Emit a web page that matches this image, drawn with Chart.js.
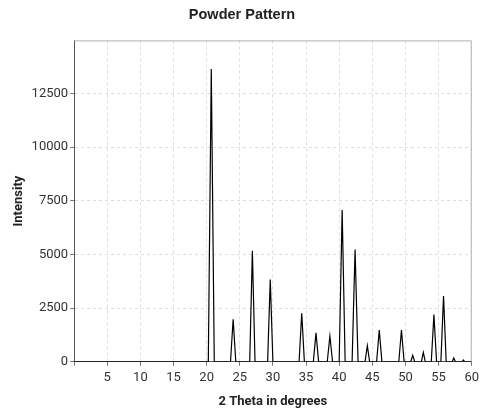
<!DOCTYPE html>
<html>
<head>
<meta charset="utf-8">
<script src="https://cdn.jsdelivr.net/npm/chart.js@4/dist/chart.umd.min.js"></script>
<style>
html,body{margin:0;padding:0;background:#fff;}
#wrap{width:483px;height:414px;}
</style>
</head>
<body>
<div id="wrap"><canvas id="c" width="483" height="414"></canvas></div>
<script>
// Powder pattern profile, 2θ (degrees) vs intensity
const twoTheta = [0,
  20.25, 20.7, 21.15,
  23.6, 24.0, 24.4,
  26.5, 26.9, 27.3,
  29.2, 29.6, 30.0,
  33.95, 34.35, 34.75,
  36.1, 36.5, 36.9,
  38.2, 38.6, 39.0,
  40.0, 40.45, 40.9,
  41.95, 42.4, 42.85,
  43.9, 44.25, 44.6,
  45.65, 46.05, 46.45,
  49.0, 49.4, 49.8,
  50.8, 51.1, 51.4,
  52.4, 52.7, 53.0,
  53.9, 54.3, 54.7,
  55.35, 55.75, 56.15,
  57.05, 57.3, 57.55,
  58.55, 58.75, 58.95,
  60];
const intensity = [0,
  0, 13650, 0,
  0, 1980, 0,
  0, 5180, 0,
  0, 3840, 0,
  0, 2260, 0,
  0, 1350, 0,
  0, 1200, 0,
  0, 7070, 0,
  0, 5230, 0,
  0, 750, 0,
  0, 1480, 0,
  0, 1480, 0,
  0, 300, 0,
  0, 440, 0,
  0, 2200, 0,
  0, 3060, 0,
  0, 175, 0,
  0, 80, 0,
  0];
const xTicks = [0, 5, 10, 15, 20, 25, 30, 35, 40, 45, 50, 55, 60];
const yTicks = [0, 2500, 5000, 7500, 10000, 12500];

const points = twoTheta.map((x, i) => ({x: x, y: intensity[i]}));

const frame = {
  id: 'frame',
  afterDatasetsDraw(chart) {
    const a = chart.chartArea, ctx = chart.ctx;
    ctx.save();
    ctx.strokeStyle = '#b0b0b0';
    ctx.lineWidth = 1;
    ctx.setLineDash([]);
    ctx.beginPath();
    ctx.moveTo(a.left, a.top + 0.5);
    ctx.lineTo(a.right - 0.5, a.top + 0.5);
    ctx.lineTo(a.right - 0.5, a.bottom);
    ctx.stroke();
    ctx.restore();
  }
};

new Chart(document.getElementById('c'), {
  type: 'line',
  data: {
    datasets: [{
      data: points,
      borderColor: '#000',
      borderWidth: 1.2,
      pointRadius: 0,
      tension: 0,
      fill: false
    }]
  },
  options: {
    responsive: false,
    animation: false,
    devicePixelRatio: 1,
    layout: {padding: {left: 11, right: 10, top: 5, bottom: 4}},
    plugins: {
      legend: {display: false},
      tooltip: {enabled: false},
      title: {
        display: true,
        text: 'Powder Pattern',
        color: '#222',
        font: {family: 'Liberation Sans', size: 14.5, weight: 'bold'},
        padding: {top: 1, bottom: 17}
      }
    },
    scales: {
      x: {
        type: 'linear',
        min: 0, max: 60,
        afterBuildTicks: s => { s.ticks = xTicks.map(v => ({value: v})); },
        ticks: {
          color: '#333',
          font: {family: 'Roboto', size: 13},
          padding: 4,
          maxRotation: 0,
          callback: v => v === 0 ? '' : String(v)
        },
        grid: {
          color: '#dedede',
          tickBorderDash: [],
          tickColor: '#777',
          tickLength: 4
        },
        border: {display: true, color: '#555', dash: [3, 3]},
        title: {
          display: true,
          text: '2 Theta in degrees',
          color: '#222',
          font: {family: 'Roboto', size: 13, weight: 'bold'},
          padding: {top: 5, bottom: 0}
        }
      },
      y: {
        min: 0, max: 14980,
        afterBuildTicks: s => { s.ticks = yTicks.map(v => ({value: v})); },
        ticks: {
          color: '#333',
          font: {family: 'Roboto', size: 13},
          padding: 2,
          callback: v => String(v)
        },
        grid: {
          color: '#dedede',
          tickBorderDash: [],
          tickColor: '#777',
          tickLength: 4
        },
        border: {display: true, color: '#555', dash: [3, 3]},
        title: {
          display: true,
          text: 'Intensity',
          color: '#222',
          font: {family: 'Roboto', size: 13, weight: 'bold'},
          padding: {top: 0, bottom: 3}
        }
      }
    }
  },
  plugins: [frame]
});
</script>
</body>
</html>
